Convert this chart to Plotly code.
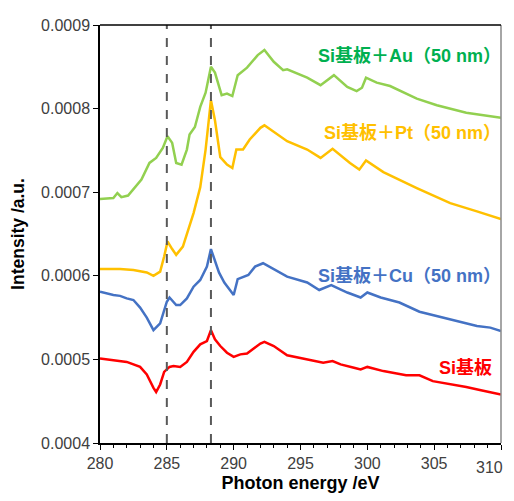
import plotly.graph_objects as go

# --- data (eV, intensity in units of 1e-4) ---
si_x = [280, 282, 283, 283.5, 284, 284.2, 284.5, 284.8, 285.2, 285.5, 286, 286.5, 287, 287.5, 288, 288.3,
        288.6, 289, 289.5, 290, 290.5, 291, 291.5, 292, 292.3, 293, 294, 295, 295.5, 296.7, 297.4, 298,
        299, 299.5, 300, 301.2, 302.9, 303.9, 304.9, 306, 307.4, 308.5, 310]
si_y = [5.01, 4.97, 4.91, 4.82, 4.66, 4.61, 4.70, 4.85, 4.91, 4.92, 4.91, 4.97, 5.09, 5.18, 5.22, 5.35,
        5.24, 5.16, 5.08, 5.03, 5.06, 5.07, 5.13, 5.19, 5.21, 5.16, 5.05, 5.02, 5.00, 4.96, 4.98, 4.94,
        4.90, 4.88, 4.91, 4.86, 4.81, 4.81, 4.74, 4.71, 4.67, 4.63, 4.58]

cu_x = [280, 281, 281.5, 282, 282.5, 283, 283.5, 284, 284.5, 285, 285.2, 285.7, 286, 286.5, 287, 287.5,
        288, 288.3, 288.9, 289.3, 290, 290.3, 291.1, 291.6, 292.2, 293, 294, 295.5, 296.4, 297.3, 298.5,
        299.5, 300, 301, 302.4, 303.9, 306.2, 308.2, 309.2, 310]
cu_y = [5.81, 5.77, 5.76, 5.73, 5.71, 5.62, 5.50, 5.35, 5.43, 5.69, 5.74, 5.65, 5.65, 5.73, 5.87, 5.95,
        6.11, 6.32, 6.04, 5.92, 5.77, 5.96, 6.01, 6.11, 6.15, 6.08, 5.99, 5.92, 5.83, 5.89, 5.80,
        5.74, 5.80, 5.74, 5.68, 5.57, 5.48, 5.40, 5.38, 5.34]

pt_x = [280, 281.5, 282.5, 283.5, 284, 284.5, 284.8, 285.05, 285.4, 285.7, 286.2, 287, 287.5, 287.9,
        288.3, 288.6, 289, 289.5, 289.9, 290.2, 290.7, 291.2, 292, 292.3, 294, 295.5, 296.5, 297.4,
        298.7, 299.4, 299.9, 301.2, 303.7, 306.2, 308.2, 310]
pt_y = [6.08, 6.08, 6.07, 6.04, 6.00, 6.05, 6.23, 6.41, 6.32, 6.25, 6.35, 6.75, 7.06, 7.51,
        8.10, 7.86, 7.42, 7.33, 7.29, 7.51, 7.51, 7.63, 7.77, 7.80, 7.61, 7.51, 7.41, 7.52,
        7.35, 7.27, 7.38, 7.24, 7.05, 6.87, 6.77, 6.68]

au_x = [280, 281, 281.3, 281.6, 282.1, 282.5, 283.1, 283.7, 284.2, 284.7, 285.05, 285.4, 285.7, 286.1,
        286.5, 286.7, 287.1, 287.5, 287.9, 288.3, 288.6, 289.1, 289.5, 289.9, 290.3, 291, 291.8, 292.3,
        293, 293.7, 294, 295.5, 296.5, 297.5, 298.5, 299.2, 299.6, 299.9, 300.7, 301.7, 303.7, 305.2,
        307.4, 310]
au_y = [6.92, 6.93, 6.99, 6.94, 6.96, 7.04, 7.15, 7.35, 7.41, 7.53, 7.67, 7.59, 7.35, 7.33,
        7.51, 7.69, 7.78, 8.02, 8.19, 8.50, 8.43, 8.16, 8.18, 8.15, 8.40, 8.49, 8.64, 8.70,
        8.56, 8.46, 8.47, 8.37, 8.28, 8.40, 8.26, 8.21, 8.25, 8.37, 8.31, 8.27, 8.12, 8.04,
        7.95, 7.89]

scale = 1e-4
series_names = ["Si基板", "Si基板＋Cu（50 nm）", "Si基板＋Pt（50 nm）", "Si基板＋Au（50 nm）"]
series_x = [si_x, cu_x, pt_x, au_x]
series_y = [si_y, cu_y, pt_y, au_y]
line_colors = ["#FF0000", "#4472C4", "#FFC000", "#92D050"]
text_colors = ["#FF0000", "#4472C4", "#FFC000", "#00B050"]
label_pix_y = [368, 276, 133, 56]
label_pix_x = [494, 503, 503, 503]

dash_x = [285, 288.3]
x_ticks = [280, 285, 290, 295, 300, 305, 310]
x_ticktext = ["280", "285", "290", "295", "300", "305", ""]   # last label drawn separately so it fits
last_x_label = "310"
y_ticks = [0.0004, 0.0005, 0.0006, 0.0007, 0.0008, 0.0009]
y_ticktext = ["0.0004", "0.0005", "0.0006", "0.0007", "0.0008", "0.0009"]

FONT = "Liberation Sans, Noto Sans CJK JP, sans-serif"
OFF = 8  # page body margin
W, H = 506, 485
ml, mr, mt, mb = 92, 13, 17, 50
pw, ph = W - ml - mr, H - mt - mb

fig = go.Figure()
for name, xs, ys, lc, tc, xpix, ypix in zip(series_names, series_x, series_y, line_colors, text_colors,
                                            label_pix_x, label_pix_y):
    fig.add_trace(go.Scatter(x=xs, y=[v * scale for v in ys], mode="lines", name=name,
                             line=dict(color=lc, width=2.5),
                             showlegend=False, hoverinfo="skip"))
    fig.add_annotation(text="<b>%s</b>" % name, xref="paper", yref="paper",
                       x=(xpix - OFF - ml) / pw, y=1 - (ypix - OFF - mt) / ph,
                       xanchor="right", yanchor="middle", showarrow=False,
                       font=dict(family=FONT, size=18, color=tc))

fig.add_annotation(text=last_x_label, xref="paper", yref="paper",
                   x=(505 - OFF - ml) / pw, y=-(467 - 443) / ph, xanchor="right", yanchor="middle",
                   showarrow=False, font=dict(family=FONT, size=16, color="#404040"))

for dx in dash_x:
    fig.add_vline(x=dx, line=dict(color="#595959", width=2, dash="dash"))

# right border in gray, top border black
fig.add_shape(type="line", xref="paper", yref="paper", x0=1, x1=1, y0=0, y1=1,
              line=dict(color="#888888", width=1.5))
fig.add_shape(type="line", xref="paper", yref="paper", x0=0, x1=1, y0=1, y1=1,
              line=dict(color="#000", width=1.5))

fig.update_layout(
    width=W, height=H, margin=dict(l=ml, r=mr, t=mt, b=mb),
    paper_bgcolor="white", plot_bgcolor="white",
    font=dict(family=FONT, size=16, color="#404040"),
    xaxis=dict(range=[280, 310], tickvals=x_ticks, ticktext=x_ticktext, ticks="outside", ticklen=5,
               tickcolor="#000", showline=True, linecolor="#000", linewidth=1.5, showgrid=False,
               zeroline=False, minor=dict(dtick=1, ticks="outside", ticklen=3, tickcolor="#000"),
               tickfont=dict(size=16, color="#404040"), ticklabeloverflow="allow", automargin=False,
               title=dict(text="<b>Photon energy /eV</b>", font=dict(size=18, color="#000"), standoff=12)),
    yaxis=dict(range=[0.0004, 0.0009], tickvals=y_ticks, ticktext=y_ticktext, ticks="outside",
               ticklen=5, tickcolor="#000", showline=True, linecolor="#000", linewidth=1.5,
               showgrid=False, zeroline=False, tickfont=dict(size=16, color="#404040"),
               ticklabeloverflow="allow", automargin=False,
               title=dict(text="<b>Intensity /a.u.</b>", font=dict(size=17.5, color="#000"), standoff=12)),
)

fig.write_html("out.html")
